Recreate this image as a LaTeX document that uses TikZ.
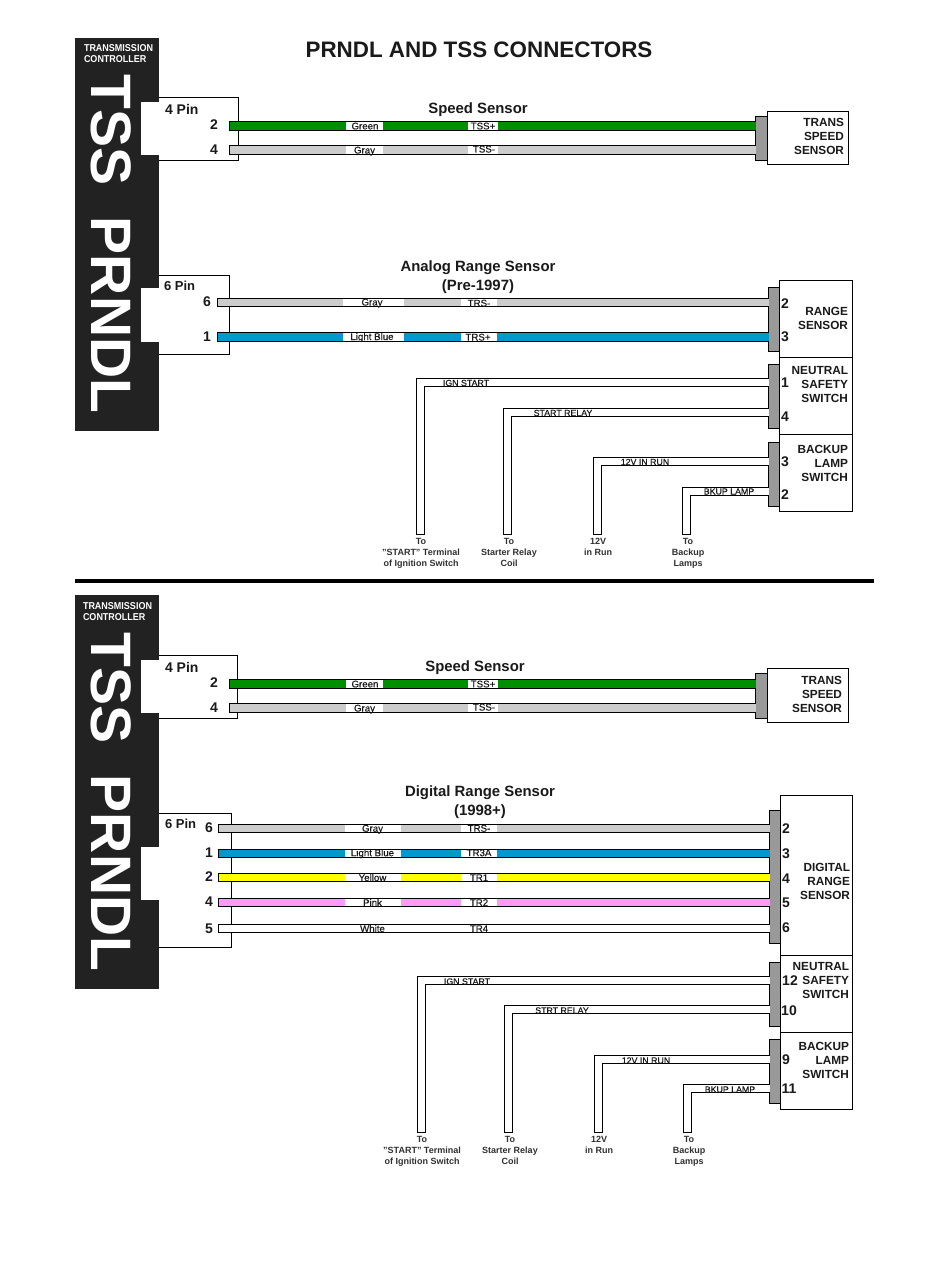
\documentclass[tikz,border=0pt]{standalone}
\usepackage{fontspec}
\setmainfont{Liberation Sans}
\newfontfamily\semibf[FakeBold=0.35]{Liberation Sans}
\definecolor{barc}{HTML}{222222}
\definecolor{connc}{HTML}{999999}
\definecolor{wgreen}{HTML}{008F00}
\definecolor{wgray}{HTML}{CCCCCC}
\definecolor{wblue}{HTML}{0099CC}
\definecolor{wyellow}{HTML}{FFFF00}
\definecolor{wpink}{HTML}{FF99FF}
\definecolor{ink}{HTML}{1A1A1A}
\newcounter{tn}
\newcommand{\fs}[1]{\fontsize{#1}{#1}\selectfont}
% filled block: name, style, x0, y0, x1, y1
\newcommand{\block}[6]{%
  \pgfmathsetmacro\bw{#5-(#3)}\pgfmathsetmacro\bh{#6-(#4)}%
  \node[#2,minimum width=\bw pt,minimum height=\bh pt,anchor=north west] (#1) at (#3,#4) {};}
% outlined block, its 1px stroke laid on the pixel grid
\newcommand{\oblock}[6]{%
  \pgfmathsetmacro\bw{#5-(#3)}\pgfmathsetmacro\bh{#6-(#4)}%
  \node[#2,minimum width=\bw pt,minimum height=\bh pt,anchor=north west] (#1) at ($(#3,#4)+(.5,.5)$) {};}
% style, x, y, text
\newcommand{\txt}[4]{\stepcounter{tn}\node[lbl,#1] (t\thetn) at (#2,#3) {#4};}
% name, colour, xstart, yc, width, target
\newcommand{\flatwire}[6]{%
  \coordinate (#1) at (#3,#4);
  \draw[black,line width=#5pt] (#1) -- (#6.west |- #1);
  \draw[#2,line width=#5pt-2pt,shorten <=1pt] (#1) -- (#6.west |- #1);}
% name, xc, ybottom, yc, width, target
\newcommand{\elbow}[6]{%
  \coordinate (#1a) at (#2,#3);
  \coordinate (#1b) at (#2,#4);
  \draw[black,line width=#5pt] (#1a) -- (#1b) -- (#6.west |- #1b);
  \draw[white,line width=#5pt-2pt,shorten <=1pt] (#1a) -- (#1b) -- (#6.west |- #1b);}
% x-centre, y, width, height (white gap in a wire)
\newcommand{\gap}[4]{\stepcounter{tn}\node[gapl,minimum width=#3pt,minimum height=#4pt] (t\thetn) at (#1,#2) {};}
\usetikzlibrary{calc}
\tikzset{
  x=1pt,y=-1pt,
  lbl/.style={inner sep=0,outer sep=0,text=ink,font=\fs{9}},
  wl/.style={anchor=base,font=\semibf\fs{9.7}},
  el/.style={anchor=base,font=\semibf\fs{8.8}},
  headl/.style={anchor=base,font=\bfseries\fs{14.9}},
  pinl/.style={font=\bfseries\fs{14}},
  namel/.style={font=\bfseries\fs{11.8},align=right,anchor=east},
  footl/.style={anchor=base,font=\bfseries\fs{9},text=ink!90},
  ctll/.style={font=\bfseries\fs{10},text=white,align=left,anchor=west},
  bigl/.style={text=white,font=\bfseries\fs{57},rotate=-90},
  boxs/.style={draw=black,line width=1pt,fill=white,inner sep=0,outer sep=0},
  bars/.style={fill=barc,inner sep=0,outer sep=0},
  notchs/.style={fill=white,inner sep=0,outer sep=0},
  conns/.style={fill=connc,draw=black,line width=.5pt,inner sep=0,outer sep=0},
  gapl/.style={fill=white,inner sep=0,outer sep=0},
}
\begin{document}
\begin{tikzpicture}
\useasboundingbox (0,0) rectangle (950,1284);
\fill[white] (0,0) rectangle (950,1284);

\txt{font=\bfseries\fs{22.4}}{479}{49.5}{PRNDL AND TSS CONNECTORS}

% ---------- upper diagram
\oblock{boxA}{boxs}{150}{97}{238}{160}
\oblock{boxB}{boxs}{150}{275}{229}{354}
\block{barA}{bars}{75}{38}{159}{431}
\block{notA}{notchs}{141}{102}{160}{155}
\block{notB}{notchs}{141}{288}{160}{342}
\txt{ctll}{84}{53.5}{\scalebox{.9}[1]{TRANSMISSION}\\[1pt]\scalebox{.9}[1]{CONTROLLER}}
\txt{bigl}{111}{130}{TSS}
\txt{bigl}{111}{315}{PRNDL}
\txt{font=\bfseries\fs{14},anchor=west}{165}{109}{4 Pin}
\txt{font=\bfseries\fs{13},anchor=west}{164}{286}{6 Pin}

\oblock{connA}{conns}{755}{116}{767}{160}
\oblock{sensA}{boxs}{767}{111}{848}{164}
\oblock{connB}{conns}{768}{287}{779}{351}
\oblock{sensB}{boxs}{779}{280}{852}{357}
\oblock{connC}{conns}{768}{364}{779}{428}
\oblock{sensC}{boxs}{779}{357}{852}{434}
\oblock{connD}{conns}{768}{442}{779}{506}
\oblock{sensD}{boxs}{779}{434}{852}{511}

\flatwire{wa1}{wgreen}{229}{126}{10}{connA}
\flatwire{wa2}{wgray}{229}{150}{10}{connA}
\flatwire{wb1}{wgray}{217}{302.5}{9}{connB}
\flatwire{wb2}{wblue}{217}{337}{10}{connB}
\elbow{ea}{420.5}{535}{382.5}{9}{connC}
\elbow{eb}{507.5}{535}{412.5}{9}{connC}
\elbow{ec}{597.5}{535}{461.5}{9}{connD}
\elbow{ed}{686.5}{535}{491.5}{9}{connD}

\gap{364.5}{126}{37}{8}\gap{483}{126}{29.5}{8}
\gap{364.5}{150}{37}{8}\gap{483}{150}{29.5}{8}
\gap{373.5}{302.5}{61}{7}\gap{479}{302.5}{36}{7}
\gap{373.5}{337}{61}{8}\gap{479}{337}{36}{8}

\txt{wl}{365}{129.4}{Green}\txt{wl}{483}{129.4}{TSS+}
\txt{wl}{364.5}{153.5}{Gray}\txt{wl}{484}{152.5}{TSS-}
\txt{wl}{372}{305.5}{Gray}\txt{wl}{479}{306.5}{TRS-}
\txt{wl}{372}{340}{Light Blue}\txt{wl}{478}{340.5}{TRS+}
\txt{el}{466}{386}{IGN START}
\txt{el}{563}{416}{START RELAY}
\txt{el}{645}{465}{12V IN RUN}
\txt{el}{729}{494.5}{BKUP LAMP}

\txt{headl}{478}{113.2}{Speed Sensor}
\txt{headl}{478}{271}{Analog Range Sensor}
\txt{headl}{478}{290}{(Pre-1997)}

\txt{pinl}{214}{125}{2}\txt{pinl}{214}{150}{4}
\txt{pinl}{207}{302}{6}\txt{pinl}{207}{337}{1}
\txt{pinl}{785}{304}{2}\txt{pinl}{785}{337}{3}
\txt{pinl}{785}{383}{1}\txt{pinl}{785}{417}{4}
\txt{pinl}{785}{462}{3}\txt{pinl}{785}{495}{2}

\txt{namel}{844}{136}{TRANS\\[2.2pt]SPEED\\[2.2pt]SENSOR}
\txt{namel}{848}{318}{RANGE\\[2.2pt]SENSOR}
\txt{namel}{848}{384}{NEUTRAL\\[2.2pt]SAFETY\\[2.2pt]SWITCH}
\txt{namel}{848}{463}{BACKUP\\[2.2pt]LAMP\\[2.2pt]SWITCH}

\txt{footl}{421}{544.2}{To}\txt{footl}{421}{555.2}{"START" Terminal}\txt{footl}{421}{566.2}{of Ignition Switch}
\txt{footl}{509}{544.2}{To}\txt{footl}{509}{555.2}{Starter Relay}\txt{footl}{509}{566.2}{Coil}
\txt{footl}{598}{544.2}{12V}\txt{footl}{598}{555.2}{in Run}
\txt{footl}{688}{544.2}{To}\txt{footl}{688}{555.2}{Backup}\txt{footl}{688}{566.2}{Lamps}

% ---------- divider
\block{divider}{bars,fill=black}{75}{579}{874}{583}

% ---------- lower diagram
\oblock{boxE}{boxs}{150}{655}{237}{718}
\oblock{boxF}{boxs}{150}{813}{231}{947}
\block{barE}{bars}{75}{595}{159}{989}
\block{notE}{notchs}{141}{660}{160}{713}
\block{notF}{notchs}{141}{847}{160}{900}
\txt{ctll}{83}{611.5}{\scalebox{.9}[1]{TRANSMISSION}\\[1pt]\scalebox{.9}[1]{CONTROLLER}}
\txt{bigl}{111}{688}{TSS}
\txt{bigl}{111}{873}{PRNDL}
\txt{font=\bfseries\fs{14},anchor=west}{165}{667}{4 Pin}
\txt{font=\bfseries\fs{13},anchor=west}{165}{824}{6 Pin}

\oblock{connE}{conns}{755}{673}{767}{718}
\oblock{sensE}{boxs}{767}{668}{848}{722}
\oblock{connF}{conns}{769}{810}{780}{943}
\oblock{sensF}{boxs}{780}{795}{852}{955}
\oblock{connG}{conns}{769}{962}{780}{1026}
\oblock{sensG}{boxs}{780}{955}{852}{1032}
\oblock{connH}{conns}{769}{1039}{780}{1103}
\oblock{sensH}{boxs}{780}{1032}{852}{1109}

\flatwire{we1}{wgreen}{229}{684}{10}{connE}
\flatwire{we2}{wgray}{229}{708}{10}{connE}
\flatwire{wf1}{wgray}{218}{828.5}{9}{connF}
\flatwire{wf2}{wblue}{218}{853.5}{9}{connF}
\flatwire{wf3}{wyellow}{218}{877.5}{9}{connF}
\flatwire{wf4}{wpink}{218}{902.5}{9}{connF}
\flatwire{wf5}{white}{218}{928.5}{9}{connF}
\elbow{eg}{421.5}{1133}{980.5}{9}{connG}
\elbow{eh}{508.5}{1133}{1009.5}{9}{connG}
\elbow{ei}{598.5}{1133}{1059.5}{9}{connH}
\elbow{ej}{687.5}{1133}{1088.5}{9}{connH}

\gap{364.5}{684}{37}{8}\gap{483}{684}{29.5}{8}
\gap{364.5}{708}{37}{8}\gap{483}{708}{29.5}{8}
\gap{373}{828.5}{56}{7}\gap{479}{828.5}{36}{7}
\gap{373}{853.5}{56}{7}\gap{479}{853.5}{36}{7}
\gap{373}{877.5}{56}{7}\gap{479}{877.5}{36}{7}
\gap{373}{902.5}{56}{7}\gap{479}{902.5}{36}{7}

\txt{wl}{365}{687.4}{Green}\txt{wl}{483}{687.4}{TSS+}
\txt{wl}{364.5}{711.5}{Gray}\txt{wl}{484}{710.5}{TSS-}
\txt{wl}{372.5}{831.7}{Gray}\txt{wl}{479}{831.7}{TRS-}
\txt{wl}{372.5}{856.2}{Light Blue}\txt{wl}{479}{856.2}{TR3A}
\txt{wl}{372.5}{881}{Yellow}\txt{wl}{479}{881}{TR1}
\txt{wl}{372.5}{906}{Pink}\txt{wl}{479}{906}{TR2}
\txt{wl}{372.5}{932}{White}\txt{wl}{479}{932}{TR4}
\txt{el}{467}{984.5}{IGN START}
\txt{el}{562}{1013.5}{STRT RELAY}
\txt{el}{646}{1063.5}{12V IN RUN}
\txt{el}{730}{1092.5}{BKUP LAMP}

\txt{headl}{475}{671.2}{Speed Sensor}
\txt{headl}{480}{796}{Digital Range Sensor}
\txt{headl}{480}{815}{(1998+)}

\txt{pinl}{214}{683}{2}\txt{pinl}{214}{708}{4}
\txt{pinl}{209}{828}{6}\txt{pinl}{209}{853}{1}\txt{pinl}{209}{877}{2}\txt{pinl}{209}{902}{4}\txt{pinl}{209}{929}{5}
\txt{pinl}{786}{829}{2}\txt{pinl}{786}{854}{3}\txt{pinl}{786}{879}{4}\txt{pinl}{786}{903}{5}\txt{pinl}{786}{928}{6}
\txt{pinl}{790}{981}{12}\txt{pinl}{789}{1011}{10}
\txt{pinl}{786}{1060}{9}\txt{pinl}{789}{1089}{11}

\txt{namel}{842}{694}{TRANS\\[2.2pt]SPEED\\[2.2pt]SENSOR}
\txt{namel}{850}{881}{DIGITAL\\[2.2pt]RANGE\\[2.2pt]SENSOR}
\txt{namel}{849}{980}{NEUTRAL\\[2.2pt]SAFETY\\[2.2pt]SWITCH}
\txt{namel}{849}{1060}{BACKUP\\[2.2pt]LAMP\\[2.2pt]SWITCH}

\txt{footl}{422}{1142.2}{To}\txt{footl}{422}{1153.2}{"START" Terminal}\txt{footl}{422}{1164.2}{of Ignition Switch}
\txt{footl}{510}{1142.2}{To}\txt{footl}{510}{1153.2}{Starter Relay}\txt{footl}{510}{1164.2}{Coil}
\txt{footl}{599}{1142.2}{12V}\txt{footl}{599}{1153.2}{in Run}
\txt{footl}{689}{1142.2}{To}\txt{footl}{689}{1153.2}{Backup}\txt{footl}{689}{1164.2}{Lamps}
\end{tikzpicture}
\end{document}
